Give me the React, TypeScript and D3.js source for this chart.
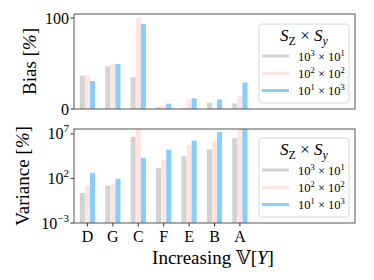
import React from 'react'
import * as d3 from 'd3'

// categories, ordered by increasing variance
const categories = ['D', 'G', 'C', 'F', 'E', 'B', 'A']
const seriesNames = [
  { a: '3', b: '1' },
  { a: '2', b: '2' },
  { a: '1', b: '3' },
]
const colors = ['#d3d3d3', '#ffe4e1', '#87cefa']

// bias [%]
const biasGray = [36.6, 47, 34.8, 2.2, 1.1, 7, 6.2]
const biasPink = [37.4, 49.5, 100, 4.4, 10.6, 1.1, 14.3]
const biasBlue = [30.8, 49.5, 93.4, 5.9, 11.7, 10.6, 29]

// variance [%]
const varGray = [2.3, 15.5, 4.7e6, 1.4e3, 3.0e4, 1.8e5, 3.3e6]
const varPink = [16.6, 21.4, 1e8, 1.3e4, 6.0e5, 1.7e6, 1e8]
const varBlue = [427, 91, 2.1e4, 1.7e5, 1.8e6, 1.6e7, 5e7]

const biasTicks = [0, 100]
const varTicks = [-3, 2, 7]

const FONT = "'Liberation Serif', 'Times New Roman', 'DejaVu Serif', serif"
const left = 74
const right = 355

const x = d3.scaleLinear().domain([-0.53, 10.53]).range([left, right])
const barW = 0.2

const Legend = ({ top }: { top: number }) => (
  <g>
    <rect x={259} y={top} width={90} height={79} rx={3} fill="white" fillOpacity={0.8} stroke="#d6d6d6" strokeWidth={1} />
    <text x={304} y={top + 17} textAnchor="middle" fontSize={17}>
      <tspan fontStyle="italic">S</tspan>
      <tspan fontSize={12} dy={4}>Z</tspan>
      <tspan dy={-4}> × </tspan>
      <tspan fontStyle="italic">S</tspan>
      <tspan fontSize={12} dy={4} fontStyle="italic">y</tspan>
    </text>
    {seriesNames.map((s, i) => {
      const yy = top + 32 + i * 17.3
      return (
        <g key={i}>
          <line x1={262} x2={289} y1={yy} y2={yy} stroke={colors[i]} strokeWidth={3} />
          <text x={298} y={yy + 4.5} fontSize={12.5}>
            10<tspan fontSize={8.5} dy={-5}>{s.a}</tspan>
            <tspan dy={5}> × 10</tspan>
            <tspan fontSize={8.5} dy={-5}>{s.b}</tspan>
          </text>
        </g>
      )
    })}
  </g>
)

const Bars = ({ series, y, base }: { series: number[][]; y: (v: number) => number; base: number }) => (
  <g>
    {series.map((vals, j) =>
      vals.map((v, i) => {
        const x0 = x(i + (j - 1) * barW - barW / 2)
        const x1 = x(i + (j - 1) * barW + barW / 2)
        const yt = y(v)
        return <rect key={`${j}-${i}`} x={x0} y={yt} width={x1 - x0} height={base - yt} fill={colors[j]} />
      })
    )}
  </g>
)

const App = () => {
  const t1 = 14, b1 = 109
  const t2 = 129, b2 = 223
  const yBias = d3.scaleLinear().domain([0, 104.5]).range([b1, t1])
  const yVar = d3.scaleLog().domain([1e-3, Math.pow(10, 7.55)]).range([b2, t2])

  return (
    <svg width={374} height={280} style={{ position: 'absolute', left: 0, top: 0, fontFamily: FONT }}>
      <rect width={374} height={280} fill="white" />
      <defs>
        <clipPath id="c1"><rect x={left} y={t1} width={right - left} height={b1 - t1} /></clipPath>
        <clipPath id="c2"><rect x={left} y={t2} width={right - left} height={b2 - t2} /></clipPath>
      </defs>

      {/* top panel: bias */}
      <g clipPath="url(#c1)">
        <Bars series={[biasGray, biasPink, biasBlue]} y={yBias} base={b1} />
      </g>
      <rect x={left} y={t1} width={right - left} height={b1 - t1} fill="none" stroke="#555" strokeWidth={1} />
      {biasTicks.map((t) => (
        <g key={t}>
          <line x1={left - 3.5} x2={left} y1={yBias(t)} y2={yBias(t)} stroke="#333" />
          <text x={left - 5} y={yBias(t) + 5.5} textAnchor="end" fontSize={16}>{t}</text>
        </g>
      ))}
      <text transform={`translate(36,${(t1 + b1) / 2}) rotate(-90)`} textAnchor="middle" fontSize={19}>
        Bias [<tspan fontStyle="italic">%</tspan>]
      </text>
      <Legend top={24} />

      {/* bottom panel: variance */}
      <g clipPath="url(#c2)">
        <Bars series={[varGray, varPink, varBlue]} y={yVar} base={b2} />
      </g>
      <rect x={left} y={t2} width={right - left} height={b2 - t2} fill="none" stroke="#555" strokeWidth={1} />
      {varTicks.map((e) => {
        const yy = yVar(Math.pow(10, e))
        return (
          <g key={e}>
            <line x1={left - 3.5} x2={left} y1={yy} y2={yy} stroke="#333" />
            <text x={left - 5} y={yy + 5.5} textAnchor="end" fontSize={16}>
              10<tspan fontSize={11} dy={-7}>{e < 0 ? `\u2212${-e}` : e}</tspan>
            </text>
          </g>
        )
      })}
      <text transform={`translate(29,${(t2 + b2) / 2}) rotate(-90)`} textAnchor="middle" fontSize={19}>
        Variance [<tspan fontStyle="italic">%</tspan>]
      </text>
      <Legend top={138} />

      {categories.map((c, i) => (
        <g key={c}>
          <line x1={x(i)} x2={x(i)} y1={b2} y2={b2 + 3.5} stroke="#333" />
          <text x={x(i)} y={242} textAnchor="middle" fontSize={16}>{c}</text>
        </g>
      ))}
      <text x={213} y={264} textAnchor="middle" fontSize={19}>
        Increasing {'\u{1D54D}'}[<tspan fontStyle="italic">Y</tspan>]
      </text>
    </svg>
  )
}

export default App
